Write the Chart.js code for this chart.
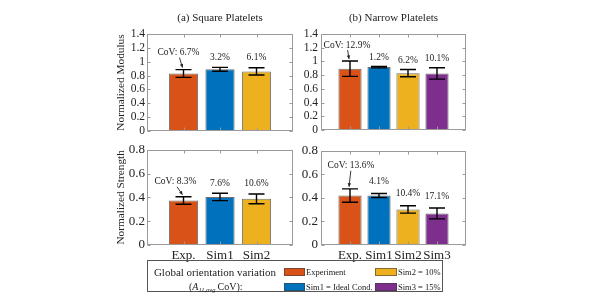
<!DOCTYPE html>
<html><head><meta charset="utf-8">
<script src="https://cdn.jsdelivr.net/npm/chart.js@4"></script>
<style>
body{margin:0;width:598px;height:302px;background:#fff;position:relative;overflow:hidden;font-family:"Liberation Serif",serif;color:#222}
canvas{position:absolute}
#legend{position:absolute;left:147px;top:260px;width:294px;height:30px;border:1px solid #555}
.t{position:absolute;white-space:nowrap;line-height:12px}
.c{transform:translateX(-50%)}
.sw{position:absolute;height:6px;border:1px solid rgba(60,60,60,.6)}
.sb{font-size:6.5px;font-style:italic;vertical-align:-2px;margin-right:2px}
</style></head><body>
<canvas id="modA" width="200" height="140" style="left:100px;top:0"></canvas>
<canvas id="modB" width="200" height="140" style="left:300px;top:0"></canvas>
<canvas id="strA" width="200" height="130" style="left:100px;top:140px"></canvas>
<canvas id="strB" width="200" height="130" style="left:300px;top:140px"></canvas>
<div id="legend">
 <div class="t c" style="left:67px;top:4.5px;font-size:11px">Global orientation variation</div>
 <div class="t" style="left:41px;top:20px;font-size:10px">(<i>A</i><span class="sb">11,avg</span>CoV):</div>
 <div class="sw" style="left:136px;top:7px;width:19px;background:#D95319"></div>
 <div class="sw" style="left:136px;top:22px;width:19px;background:#0072BD"></div>
 <div class="sw" style="left:227px;top:7px;width:20px;background:#EDB120"></div>
 <div class="sw" style="left:227px;top:22px;width:20px;background:#7E2F8E"></div>
 <div class="t" style="left:158px;top:4.5px;font-size:8.5px">Experiment</div>
 <div class="t" style="left:158px;top:19.5px;font-size:8.5px">Sim1 = Ideal Cond.</div>
 <div class="t" style="left:250px;top:4.5px;font-size:8.5px">Sim2 = 10%</div>
 <div class="t" style="left:250px;top:19.5px;font-size:8.5px">Sim3 = 15%</div>
</div>
<script>
const catsA=['Exp.','Sim1','Sim2'];
const catsB=['Exp.','Sim1','Sim2','Sim3'];
const modA=[0.83,0.89,0.86], modAErr=[0.056,0.028,0.052], modATxt=['CoV: 6.7%','3.2%','6.1%'];
const modB=[0.894,0.918,0.83,0.825], modBErr=[0.112,0.011,0.052,0.083], modBTxt=['CoV: 12.9%','1.2%','6.2%','10.1%'];
const strA=[0.374,0.404,0.388], strAErr=[0.031,0.031,0.041], strATxt=['CoV: 8.3%','7.6%','10.6%'];
const strB=[0.42,0.42,0.302,0.268], strBErr=[0.057,0.017,0.031,0.046], strBTxt=['CoV: 13.6%','4.1%','10.4%','17.1%'];
const barColors=['#D95319','#0072BD','#EDB120','#7E2F8E'];
const SERIF='"Liberation Serif", "Times New Roman", serif';

function arrow(ctx,x1,y1,x2,y2){
 const a=Math.atan2(y2-y1,x2-x1), L=4;
 ctx.lineWidth=0.9; ctx.beginPath(); ctx.moveTo(x1,y1); ctx.lineTo(x2,y2); ctx.stroke();
 ctx.beginPath(); ctx.moveTo(x2,y2);
 ctx.lineTo(x2-L*Math.cos(a-0.45),y2-L*Math.sin(a-0.45));
 ctx.lineTo(x2-L*Math.cos(a+0.45),y2-L*Math.sin(a+0.45));
 ctx.closePath(); ctx.fill();
}

// error bars, CoV labels, MATLAB-style box with inward ticks
const panel={id:'panel',
 afterDatasetsDraw(c){
  const o=c.options.plugins.panel, ctx=c.ctx, x=c.scales.x, y=c.scales.y;
  ctx.save();
  o.vals.forEach((v,i)=>{
   const px=x.getPixelForValue(i+1), hi=y.getPixelForValue(v+o.errs[i]), lo=y.getPixelForValue(v-o.errs[i]);
   ctx.strokeStyle='#000'; ctx.fillStyle='#000'; ctx.lineWidth=1.4;
   ctx.beginPath(); ctx.moveTo(px,hi); ctx.lineTo(px,lo);
   ctx.moveTo(px-8,hi); ctx.lineTo(px+8,hi); ctx.moveTo(px-8,lo); ctx.lineTo(px+8,lo); ctx.stroke();
   ctx.fillStyle='#222'; ctx.font='9.5px '+SERIF; ctx.textAlign='center'; ctx.textBaseline='middle';
   if(i===0){
    const lx=px+o.covDx, ly=hi-o.covDy;
    ctx.fillText(o.txt[i],lx,ly);
    ctx.strokeStyle='#222'; arrow(ctx,lx+o.covDx*-0.2,ly+5,px-1,hi-2);
   } else ctx.fillText(o.txt[i],px,hi-o.dy);
  });
  ctx.restore();
 },
 afterDraw(c){
  const ctx=c.ctx, a=c.chartArea, x=c.scales.x, y=c.scales.y, n=c.options.plugins.panel.vals.length;
  ctx.save(); ctx.strokeStyle='#9a9a9a'; ctx.lineWidth=1;
  const l=Math.round(a.left)+0.5, r=Math.round(a.right)-0.5, t=Math.round(a.top)+0.5, b=Math.round(a.bottom)-0.5;
  ctx.strokeRect(l,t,r-l,b-t);
  ctx.beginPath();
  y.ticks.forEach(k=>{const py=Math.round(y.getPixelForValue(k.value))+0.5;
   ctx.moveTo(l,py); ctx.lineTo(l+3,py); ctx.moveTo(r,py); ctx.lineTo(r-3,py);});
  for(let i=1;i<=n;i++){const px=Math.round(x.getPixelForValue(i))+0.5;
   ctx.moveTo(px,b); ctx.lineTo(px,b-3); ctx.moveTo(px,t); ctx.lineTo(px,t+3);}
  ctx.stroke(); ctx.restore();
 }
};

function makePanel(id,cats,vals,errs,txt,yMax,o){
 const n=cats.length;
 return new Chart(document.getElementById(id),{type:'bar',
  data:{datasets:[{data:vals.map((v,i)=>({x:i+1,y:v})),backgroundColor:barColors.slice(0,n),
   borderColor:'rgba(50,50,50,0.7)',borderWidth:1,barPercentage:0.8,categoryPercentage:1}]},
  options:{responsive:false,animation:false,
   layout:{padding:o.pad},
   plugins:{legend:{display:false},tooltip:{enabled:false},
    title:{display:!!o.title,text:o.title,fullSize:false,color:'#222',
     font:{family:SERIF,size:11,weight:'normal'},padding:{top:11.4,bottom:9.4}},
    panel:{vals,errs,txt,covDx:o.covDx,covDy:o.covDy,dy:o.dy}},
   scales:{
    x:{type:'linear',min:0,max:n+1,offset:false,
     afterBuildTicks(s){s.ticks=cats.map((_,i)=>({value:i+1}));},
     ticks:{display:o.showX,autoSkip:false,maxRotation:0,padding:3,color:'#222',
      font:{family:SERIF,size:13},callback:v=>cats[v-1]},
     grid:{display:false,drawTicks:false},border:{display:false},
     afterFit(s){s.height=o.xh;}},
    y:{min:0,max:yMax,
     ticks:{stepSize:0.2,autoSkip:false,padding:o.tp,color:'#222',font:{family:SERIF,size:o.fs},callback:v=>String(+v.toFixed(1))},
     grid:{display:false,drawTicks:false},border:{display:false},
     title:{display:!!o.ytitle,text:o.ytitle,color:'#222',font:{family:SERIF,size:11.3},padding:0},
     afterFit(s){s.width=o.yw;}}
   }},
  plugins:[panel]});
}

makePanel('modA',catsA,modA,modAErr,modATxt,1.4,
 {title:'(a) Square Platelets',ytitle:'Normalized Modulus',pad:{left:14,right:7,top:0,bottom:0},yw:33,xh:9,showX:false,fs:11.5,tp:2,covDx:-5,covDy:17,dy:10});
makePanel('modB',catsB,modB,modBErr,modBTxt,1.4,
 {title:'(b) Narrow Platelets',ytitle:'',pad:{left:0,right:34,top:0,bottom:0},yw:21,xh:9,showX:false,fs:11.5,tp:3,covDx:-3,covDy:16,dy:9});
makePanel('strA',catsA,strA,strAErr,strATxt,0.8,
 {title:'',ytitle:'Normalized Strength',pad:{left:14,right:7,top:8,bottom:0},yw:33,xh:25,showX:true,fs:13,tp:2,covDx:-8,covDy:15,dy:10});
makePanel('strB',catsB,strB,strBErr,strBTxt,0.8,
 {title:'',ytitle:'',pad:{left:0,right:34,top:8,bottom:0},yw:21,xh:25,showX:true,fs:13,tp:3,covDx:1,covDy:23,dy:12});
</script>
</body></html>
